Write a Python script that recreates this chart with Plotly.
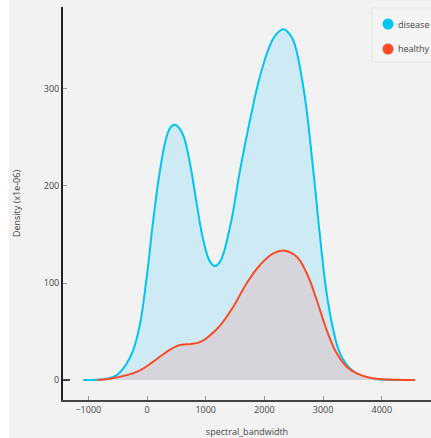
import plotly.graph_objects as go

# ---- data ----
disease_x = [-1085, -850, -687, -516, -346, -233, -119, -5, 107, 221, 335, 410, 477, 545, 619,
             733, 846, 960, 1073, 1158, 1244, 1414, 1584, 1755, 1925, 2095, 2210, 2322, 2410,
             2493, 2663, 2833, 2947, 3061, 3174, 3288, 3458, 3629, 3800, 3913, 4100, 4367]
disease_y = [0, 0.3, 1.4, 5, 17, 31, 58, 106, 165, 216, 251, 261, 263, 260, 252,
             223, 182, 144, 122, 117.5, 122, 158, 216, 268, 313, 345, 357, 361.5, 358,
             350, 302, 216, 148, 89, 51.5, 27.5, 12, 5, 1.6, 0.7, 0.2, 0]

healthy_x = [-850, -630, -346, -119, 107, 335, 506, 620, 733, 903, 1073, 1244, 1470, 1698,
             1925, 2152, 2351, 2550, 2721, 2891, 3061, 3232, 3402, 3572, 3799, 4083, 4350, 4566]
healthy_y = [0, 1.4, 5, 10, 19, 29, 35, 36.5, 37, 39, 46, 56, 75.6, 99.7,
             118.6, 130.6, 133.3, 127, 110, 82.5, 51.5, 27.5, 13.7, 6.9, 2.4, 0.6, 0.1, 0]

series_names = ["disease", "healthy"]
x_ticks = [-1000, 0, 1000, 2000, 3000, 4000]
y_ticks = [0, 100, 200, 300]

# ---- styles ----
W, H = 431, 438
ML, MR, MT, MB = 63, 0, 7, 38
PW, PH = W - ML - MR, H - MT - MB
BG = "#f2f2f2"
CYAN = "#00c4f2"
RED = "#fd4a26"
FONT = "Open Sans"
TXT = "#444"


def px(p):
    return (p - ML) / PW


def py(p):
    return (MT + PH - p) / PH


fig = go.Figure()
fig.add_trace(go.Scatter(x=disease_x, y=disease_y, mode="lines", name=series_names[0],
                         line=dict(color=CYAN, width=2, shape="spline", smoothing=1.2),
                         fill="tozeroy", fillcolor="#cdeaf5", showlegend=False))
fig.add_trace(go.Scatter(x=healthy_x, y=healthy_y, mode="lines", name=series_names[1],
                         line=dict(color=RED, width=2, shape="spline", smoothing=1.2),
                         fill="tozeroy", fillcolor="#d6d5dc", showlegend=False))

shapes = [
    # white strip on the left of the canvas
    dict(type="rect", xref="paper", yref="paper", x0=px(-5), x1=px(9), y0=py(445), y1=py(-5),
         fillcolor="white", line=dict(width=0), layer="below"),
    # dark zero tick
    dict(type="line", xref="paper", yref="y", x0=0, x1=px(70), y0=0, y1=0,
         line=dict(color="#111", width=1.5)),
    # legend box
    dict(type="rect", xref="paper", yref="paper", x0=px(372), x1=px(440), y0=py(62), y1=py(8),
         fillcolor="#f4f4f4", line=dict(color="#e4e4e4", width=1)),
]
annotations = []
for i, (name, col) in enumerate(zip(series_names, [CYAN, RED])):
    cy = 24 + 25 * i
    shapes.append(dict(type="circle", xref="paper", yref="paper", xsizemode="pixel",
                       ysizemode="pixel", xanchor=px(388), yanchor=py(cy),
                       x0=-5.5, x1=5.5, y0=-5.5, y1=5.5, fillcolor=col, line=dict(width=0)))
    annotations.append(dict(xref="paper", yref="paper", x=px(396), y=py(cy), text=name,
                            showarrow=False, xanchor="left", yanchor="middle",
                            font=dict(family=FONT, size=9, color=TXT)))

fig.update_layout(
    width=W, height=H,
    margin=dict(l=ML, r=MR, t=MT, b=MB),
    paper_bgcolor=BG, plot_bgcolor=BG,
    font=dict(family=FONT, size=9, color=TXT),
    showlegend=False,
    shapes=shapes, annotations=annotations,
    xaxis=dict(range=[-1431, 4838], tickvals=x_ticks, ticks="inside", ticklen=4,
               tickcolor="#999", showline=True, linecolor="#444", linewidth=1.5,
               showgrid=False, zeroline=False,
               tickfont=dict(family=FONT, size=9, color=TXT),
               title=dict(text="spectral_bandwidth", standoff=14,
                          font=dict(family=FONT, size=9, color=TXT))),
    yaxis=dict(range=[-20.6, 384.5], tickvals=y_ticks, ticks="inside", ticklen=4,
               tickcolor="#999", showline=True, linecolor="#222", linewidth=2,
               showgrid=False, zeroline=False,
               tickfont=dict(family=FONT, size=9, color=TXT),
               title=dict(text="Density (x1e-06)", standoff=22,
                          font=dict(family=FONT, size=9, color=TXT))),
)

fig.write_html("out.html")
